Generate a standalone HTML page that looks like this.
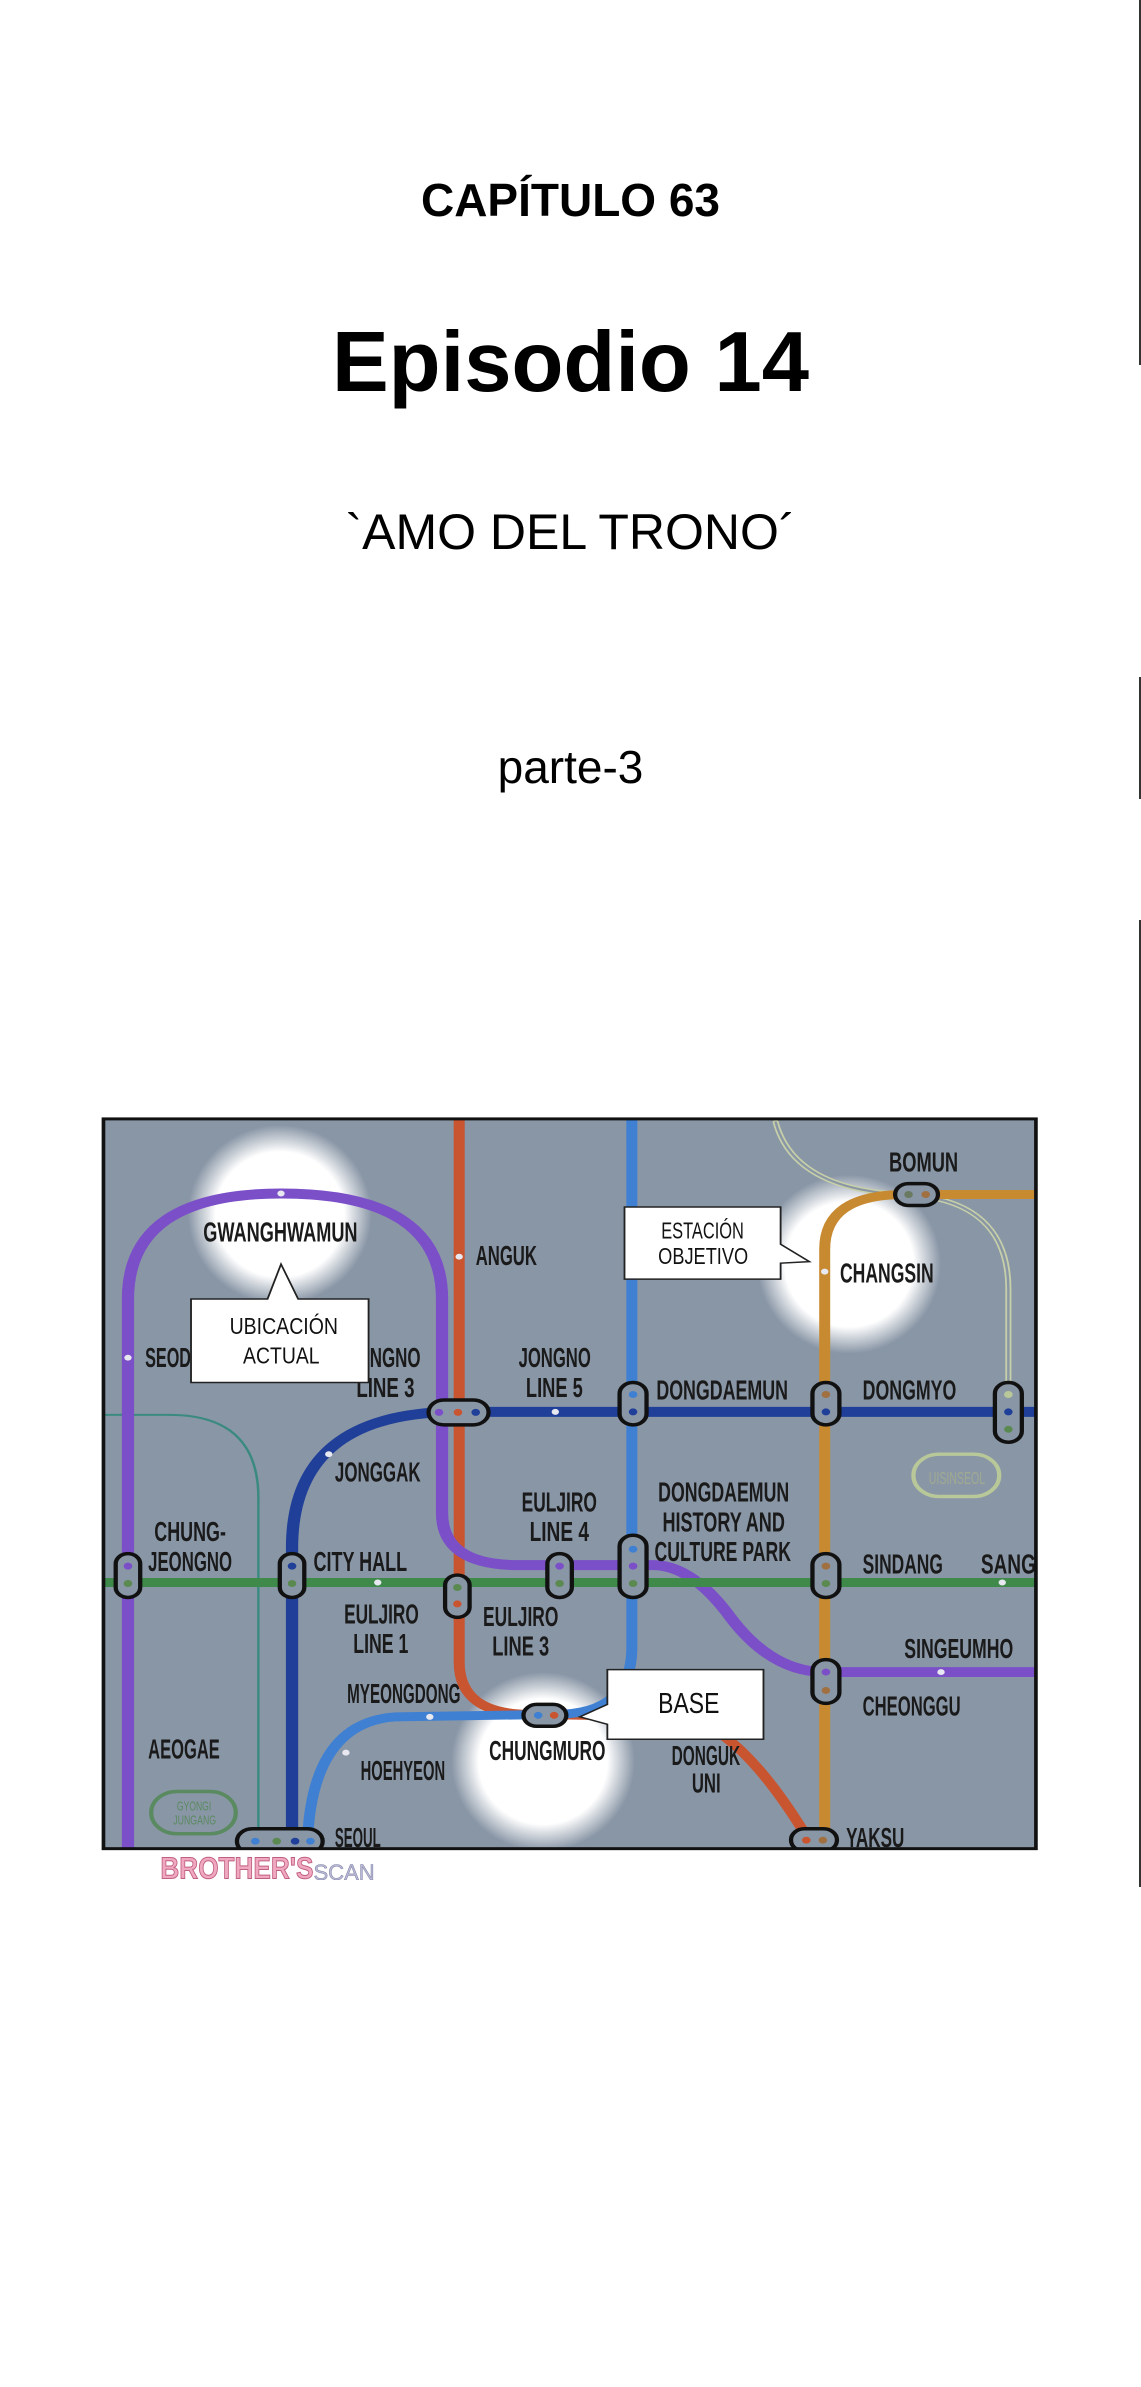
<!DOCTYPE html>
<html><head><meta charset="utf-8"><style>
html,body{margin:0;padding:0;background:#fff;}
body{width:1141px;height:2387px;position:relative;overflow:hidden;font-family:"Liberation Sans",sans-serif;}
.t{position:absolute;left:0;width:1141px;text-align:center;color:#000;line-height:1;}
.edge{position:absolute;left:1139px;width:2px;background:#333;}
</style></head><body>
<div class="t" style="top:177px;font-size:46px;font-weight:bold;">CAPÍTULO 63</div>
<div class="t" style="top:320px;font-size:85px;font-weight:bold;">Episodio 14</div>
<div class="t" style="top:507px;font-size:50px;">`AMO DEL TRONO´</div>
<div class="t" style="top:744px;font-size:46px;">parte-3</div>
<div class="edge" style="top:0;height:365px"></div>
<div class="edge" style="top:677px;height:122px"></div>
<div class="edge" style="top:920px;height:967px"></div>

<svg style="position:absolute;left:90px;top:1100px" width="960" height="780" viewBox="0 0 1568 1568" preserveAspectRatio="none">
<defs>
<radialGradient id="g"><stop offset="0" stop-color="#fff"/><stop offset="0.7" stop-color="#fff"/><stop offset="1" stop-color="#fff" stop-opacity="0"/></radialGradient>
<clipPath id="c"><rect x="22" y="38" width="1523" height="1467"/></clipPath>
</defs>
<g clip-path="url(#c)">
<rect x="22" y="38" width="1523" height="1467" fill="#8996a6"/>
<ellipse cx="310" cy="230" rx="150" ry="180" fill="url(#g)"/>
<ellipse cx="1240" cy="330" rx="150" ry="180" fill="url(#g)"/>
<ellipse cx="740" cy="1330" rx="150" ry="180" fill="url(#g)"/>
<g fill="none" stroke-linecap="round">
<path d="M1120 45 Q1150 180 1330 190 Q1500 200 1500 380 L1500 640" stroke="#c6cfa8" stroke-width="10"/>
<path d="M1120 45 Q1150 180 1330 190 Q1500 200 1500 380 L1500 640" stroke="#8996a6" stroke-width="4"/>
<path d="M25 633 L130 633 Q275 633 275 800 L275 1510" stroke="#3a8a80" stroke-width="4"/>
<path d="M603 40 L603 1130 Q603 1235 720 1235 L960 1240 Q1060 1250 1180 1500" stroke="#c85530" stroke-width="18"/>
<path d="M885 40 L885 1100 Q885 1235 760 1235 L500 1240 Q360 1250 355 1500" stroke="#3f80d2" stroke-width="18"/>
<path d="M1200 1510 L1200 300 Q1200 190 1330 190 L1550 190" stroke="#c88a30" stroke-width="18"/>
<path d="M62 1510 L62 400 Q62 188 312 188 Q575 188 575 400 L575 830 Q575 935 700 935 L920 935 Q980 935 1040 1030 Q1110 1150 1200 1150 L1545 1150" stroke="#7b4fc8" stroke-width="20"/>
<path d="M1545 627 L600 627 Q330 627 330 900 L330 1510" stroke="#1f3f98" stroke-width="20"/>
<path d="M25 970 L1550 970" stroke="#3f8a4a" stroke-width="18"/>
</g>
<g fill="#e8e8f0">
<circle cx="312" cy="188" r="6"/><circle cx="603" cy="315" r="6"/><circle cx="62" cy="518" r="6"/><circle cx="1200" cy="345" r="6"/>
<circle cx="760" cy="627" r="6"/><circle cx="390" cy="712" r="6"/><circle cx="470" cy="970" r="6"/><circle cx="1490" cy="970" r="6"/>
<circle cx="555" cy="1240" r="6"/><circle cx="418" cy="1312" r="6"/><circle cx="1390" cy="1150" r="6"/>
</g>
<g stroke="#111" stroke-width="7" fill="#8996a6">
<rect x="553" y="603" width="98" height="50" rx="25"/>
<rect x="865" y="568" width="44" height="85" rx="22"/>
<rect x="1180" y="568" width="44" height="85" rx="22"/>
<rect x="1478" y="568" width="44" height="120" rx="22"/>
<rect x="1315" y="168" width="70" height="44" rx="22"/>
<rect x="42" y="912" width="40" height="88" rx="20"/>
<rect x="310" y="912" width="40" height="88" rx="20"/>
<rect x="580" y="955" width="40" height="85" rx="20"/>
<rect x="747" y="912" width="40" height="88" rx="20"/>
<rect x="865" y="875" width="44" height="125" rx="22"/>
<rect x="1180" y="912" width="44" height="88" rx="22"/>
<rect x="1180" y="1125" width="44" height="88" rx="22"/>
<rect x="708" y="1215" width="70" height="44" rx="22"/>
<rect x="240" y="1465" width="140" height="50" rx="25"/>
<rect x="1145" y="1465" width="75" height="45" rx="22"/>
</g>
<g>
<circle cx="570" cy="628" r="7" fill="#7b4fc8"/><circle cx="601" cy="628" r="7" fill="#c85530"/><circle cx="630" cy="628" r="7" fill="#1f3f98"/>
<circle cx="887" cy="592" r="7" fill="#3f80d2"/><circle cx="887" cy="627" r="7" fill="#1f3f98"/>
<circle cx="1202" cy="592" r="7" fill="#a07040"/><circle cx="1202" cy="627" r="7" fill="#1f3f98"/>
<circle cx="1500" cy="592" r="7" fill="#b8c898"/><circle cx="1500" cy="627" r="7" fill="#1f3f98"/><circle cx="1500" cy="662" r="7" fill="#5a8a50"/>
<circle cx="1337" cy="190" r="7" fill="#6a7a60"/><circle cx="1365" cy="190" r="7" fill="#a07040"/>
<circle cx="62" cy="937" r="7" fill="#7b4fc8"/><circle cx="62" cy="972" r="7" fill="#5a8a50"/>
<circle cx="330" cy="937" r="7" fill="#1f3f98"/><circle cx="330" cy="972" r="7" fill="#5a8a50"/>
<circle cx="600" cy="980" r="7" fill="#5a8a50"/><circle cx="600" cy="1013" r="7" fill="#c85530"/>
<circle cx="767" cy="937" r="7" fill="#7b4fc8"/><circle cx="767" cy="972" r="7" fill="#5a8a50"/>
<circle cx="887" cy="903" r="7" fill="#3f80d2"/><circle cx="887" cy="937" r="7" fill="#7b4fc8"/><circle cx="887" cy="972" r="7" fill="#5a8a50"/>
<circle cx="1202" cy="937" r="7" fill="#a07040"/><circle cx="1202" cy="972" r="7" fill="#5a8a50"/>
<circle cx="1202" cy="1150" r="7" fill="#7b4fc8"/><circle cx="1202" cy="1187" r="7" fill="#a07040"/>
<circle cx="732" cy="1237" r="7" fill="#3f80d2"/><circle cx="758" cy="1237" r="7" fill="#c85530"/>
<circle cx="270" cy="1490" r="7" fill="#3f80d2"/><circle cx="305" cy="1490" r="7" fill="#5a8a50"/><circle cx="335" cy="1490" r="7" fill="#1f3f98"/><circle cx="360" cy="1490" r="7" fill="#3f80d2"/>
<circle cx="1170" cy="1488" r="7" fill="#c85530"/><circle cx="1197" cy="1488" r="7" fill="#a07040"/>
</g>
<rect x="1345" y="712" width="140" height="85" rx="42" fill="none" stroke="#b8c898" stroke-width="7"/>
<text x="1370" y="772" font-size="36" fill="#a0aa90" textLength="92" lengthAdjust="spacingAndGlyphs">UISINSEOL</text>
<rect x="100" y="1390" width="138" height="85" rx="42" fill="none" stroke="#5a8a60" stroke-width="7"/>
<text x="142" y="1428" font-size="26" fill="#5a8a60" textLength="56" lengthAdjust="spacingAndGlyphs">GYONGI</text>
<text x="136" y="1456" font-size="26" fill="#5a8a60" textLength="70" lengthAdjust="spacingAndGlyphs">JUNGANG</text>
<g font-family="Liberation Sans,sans-serif" font-weight="bold" font-size="56" fill="#1a1a1a">
<text x="185" y="284" textLength="252" lengthAdjust="spacingAndGlyphs">GWANGHWAMUN</text>
<text x="630" y="332" textLength="100" lengthAdjust="spacingAndGlyphs">ANGUK</text>
<text x="1305" y="144" textLength="113" lengthAdjust="spacingAndGlyphs">BOMUN</text>
<text x="1225" y="367" textLength="153" lengthAdjust="spacingAndGlyphs">CHANGSIN</text>
<text x="90" y="537" textLength="75" lengthAdjust="spacingAndGlyphs">SEOD</text>
<text x="420" y="537" textLength="120" lengthAdjust="spacingAndGlyphs">JONGNO</text><text x="435" y="597" textLength="95" lengthAdjust="spacingAndGlyphs">LINE 3</text>
<text x="700" y="537" textLength="118" lengthAdjust="spacingAndGlyphs">JONGNO</text><text x="712" y="597" textLength="93" lengthAdjust="spacingAndGlyphs">LINE 5</text>
<text x="925" y="602" textLength="215" lengthAdjust="spacingAndGlyphs">DONGDAEMUN</text>
<text x="1262" y="602" textLength="153" lengthAdjust="spacingAndGlyphs">DONGMYO</text>
<text x="400" y="767" textLength="140" lengthAdjust="spacingAndGlyphs">JONGGAK</text>
<text x="705" y="827" textLength="123" lengthAdjust="spacingAndGlyphs">EULJIRO</text><text x="718" y="887" textLength="97" lengthAdjust="spacingAndGlyphs">LINE 4</text>
<text x="928" y="807" textLength="214" lengthAdjust="spacingAndGlyphs">DONGDAEMUN</text><text x="935" y="867" textLength="200" lengthAdjust="spacingAndGlyphs">HISTORY AND</text><text x="922" y="927" textLength="223" lengthAdjust="spacingAndGlyphs">CULTURE PARK</text>
<text x="105" y="887" textLength="117" lengthAdjust="spacingAndGlyphs">CHUNG-</text><text x="95" y="947" textLength="137" lengthAdjust="spacingAndGlyphs">JEONGNO</text>
<text x="365" y="947" textLength="153" lengthAdjust="spacingAndGlyphs">CITY HALL</text>
<text x="1262" y="952" textLength="131" lengthAdjust="spacingAndGlyphs">SINDANG</text>
<text x="1455" y="952" textLength="90" lengthAdjust="spacingAndGlyphs">SANG</text>
<text x="415" y="1052" textLength="122" lengthAdjust="spacingAndGlyphs">EULJIRO</text><text x="430" y="1112" textLength="90" lengthAdjust="spacingAndGlyphs">LINE 1</text>
<text x="642" y="1057" textLength="123" lengthAdjust="spacingAndGlyphs">EULJIRO</text><text x="657" y="1117" textLength="93" lengthAdjust="spacingAndGlyphs">LINE 3</text>
<text x="1330" y="1122" textLength="178" lengthAdjust="spacingAndGlyphs">SINGEUMHO</text>
<text x="1262" y="1237" textLength="160" lengthAdjust="spacingAndGlyphs">CHEONGGU</text>
<text x="420" y="1212" textLength="185" lengthAdjust="spacingAndGlyphs">MYEONGDONG</text>
<text x="95" y="1324" textLength="117" lengthAdjust="spacingAndGlyphs">AEOGAE</text>
<text x="652" y="1327" textLength="190" lengthAdjust="spacingAndGlyphs">CHUNGMURO</text>
<text x="442" y="1367" textLength="138" lengthAdjust="spacingAndGlyphs">HOEHYEON</text>
<text x="950" y="1337" textLength="112" lengthAdjust="spacingAndGlyphs">DONGUK</text><text x="983" y="1392" textLength="47" lengthAdjust="spacingAndGlyphs">UNI</text>
<text x="400" y="1502" textLength="75" lengthAdjust="spacingAndGlyphs">SEOUL</text>
<text x="1235" y="1502" textLength="95" lengthAdjust="spacingAndGlyphs">YAKSU</text>
</g>
<g fill="#fff" stroke="#222" stroke-width="3">
<path d="M165 400 L290 400 L312 330 L340 400 L455 400 L455 568 L165 568 Z"/>
<path d="M873 215 L1128 215 L1128 290 L1175 325 L1128 328 L1128 360 L873 360 Z"/>
<path d="M845 1145 L1100 1145 L1100 1285 L845 1285 L845 1255 L800 1240 L845 1215 Z"/>
</g>
<g font-family="Liberation Sans,sans-serif" font-size="46" fill="#111">
<text x="228" y="470" textLength="177" lengthAdjust="spacingAndGlyphs">UBICACIÓN</text><text x="250" y="530" textLength="125" lengthAdjust="spacingAndGlyphs">ACTUAL</text>
<text x="933" y="278" textLength="135" lengthAdjust="spacingAndGlyphs">ESTACIÓN</text><text x="928" y="330" textLength="147" lengthAdjust="spacingAndGlyphs">OBJETIVO</text>
<text x="928" y="1232" font-size="58" textLength="100" lengthAdjust="spacingAndGlyphs">BASE</text>
</g>
</g>
<rect x="22" y="38" width="1523" height="1467" fill="none" stroke="#111" stroke-width="6"/>
<text x="115" y="1565" font-family="Liberation Sans,sans-serif" font-weight="bold" font-size="62" fill="#f0a8c0" stroke="#c06080" stroke-width="2" textLength="250" lengthAdjust="spacingAndGlyphs">BROTHER'S</text>
<text x="365" y="1568" font-family="Liberation Sans,sans-serif" font-size="44" fill="#b8b8d8" stroke="#8080a0" stroke-width="1" textLength="100" lengthAdjust="spacingAndGlyphs">SCAN</text>
</svg>
</body></html>
